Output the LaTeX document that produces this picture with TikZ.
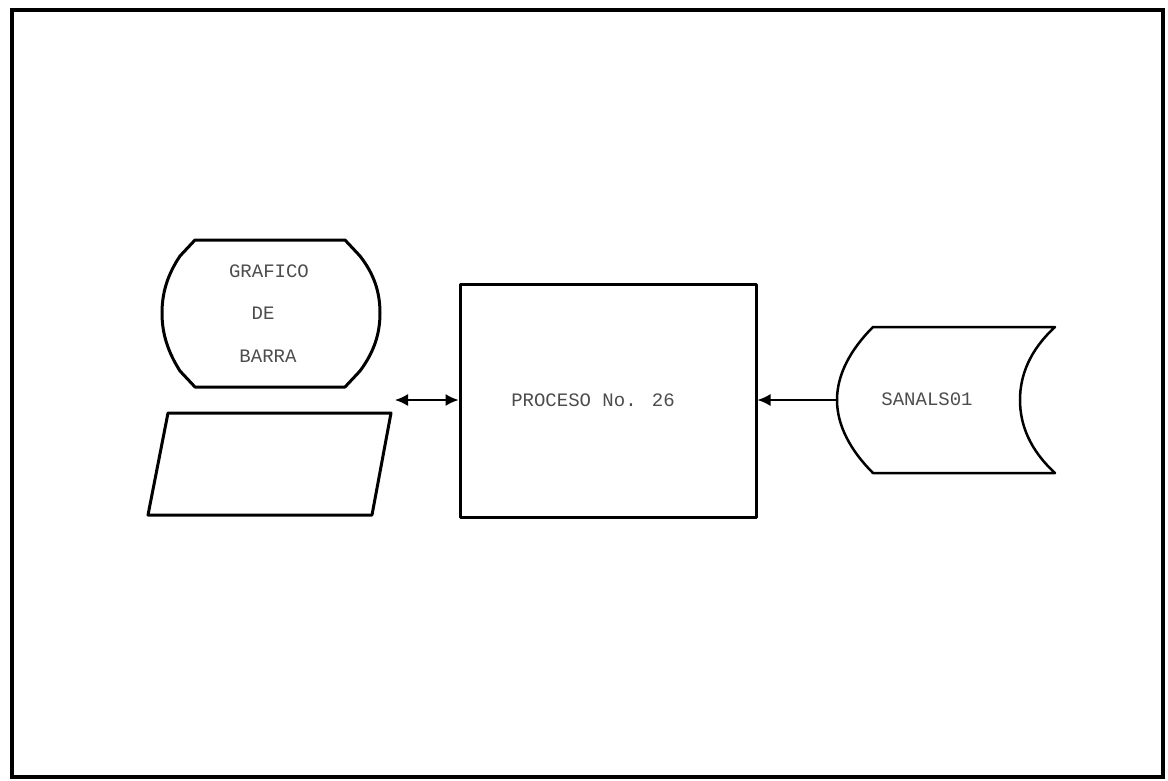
\documentclass[tikz,border=0pt]{standalone}
\usepackage{fontspec}
\newfontfamily\monofnt{Liberation Mono}
\usetikzlibrary{arrows.meta}
\begin{document}
\begin{tikzpicture}[x=1pt,y=-1pt,
  shapeline/.style={line width=3pt, line join=round},
  lbl/.style={font=\monofnt\fontsize{19}{19}\selectfont, text=black!70, inner sep=0pt},
  conn/.style={line width=1.5pt},
  tip/.tip={Latex[length=13pt,width=12pt]}]
\useasboundingbox (0,0) rectangle (1168,780);
\draw[line width=4.5pt] (12,10) rectangle (1163,777);
% display shape
\draw[shapeline] (195,240) -- (345,240) -- (360,256) .. controls (374,274) and (380,292) .. (380,313)
  .. controls (380,334) and (374,352) .. (360,371) -- (345,387) -- (195,387) -- (180,371)
  .. controls (168,352) and (162,334) .. (162,313)
  .. controls (162,292) and (168,274) .. (180,256) -- cycle;
\node[lbl] (l1) at (269,271) {GRAFICO};
\node[lbl] (l2) at (263,313) {DE};
\node[lbl] (l3) at (268,356) {BARRA};
% parallelogram
\draw[shapeline] (168,413) -- (391,413) -- (372,515) -- (148,515) -- cycle;
% process
\node[draw, shapeline, minimum width=296pt, minimum height=233pt] (proc) at (608,400.5) {};
\node[lbl] (proclbl) at (593,400) {PROCESO No. 26};
% stored data
\draw[line width=2.5pt, line join=round] (873,327) -- (1055,327)
  .. controls (1030,350) and (1020,375) .. (1020,400)
  .. controls (1020,425) and (1030,450) .. (1055,473) -- (873,473)
  .. controls (850,450) and (837,425) .. (837,400)
  .. controls (837,375) and (850,350) .. (873,327) -- cycle;
\node[lbl] (storelbl) at (927,399) {SANALS01};
\coordinate (storeW) at (837,400);
\coordinate (dispR) at (395,400);
% connectors
\draw[conn, -tip] (storeW) -- (proc.east |- storeW);
\draw[conn, tip-tip] (dispR) -- (proc.west |- dispR);
\end{tikzpicture}
\end{document}
